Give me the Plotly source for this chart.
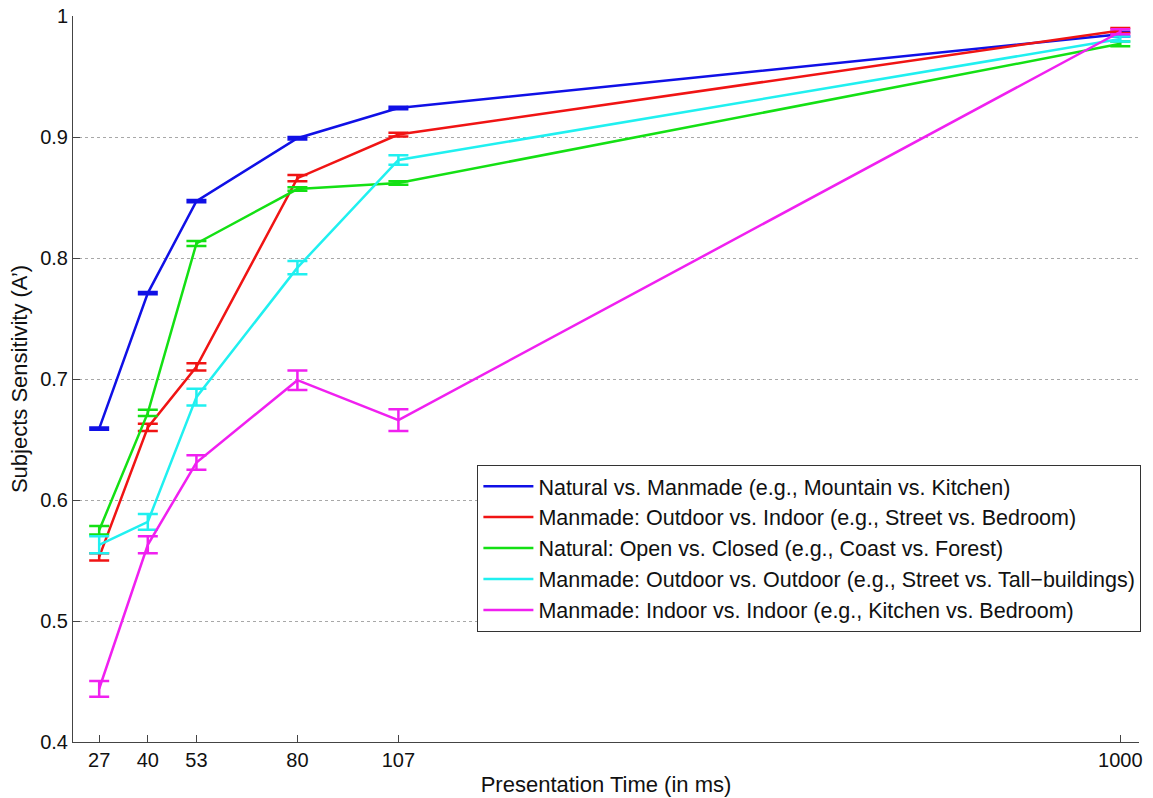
import plotly.graph_objects as go

# Presentation times (ms) and axis break: 1000 ms is drawn at the compressed position 300
times = [27, 40, 53, 80, 107, 1000]
tick_labels = ["27", "40", "53", "80", "107", "1000"]
BREAK_START = 107
BREAK_END_POS = 300


def axis_pos(t):
    if t <= BREAK_START:
        return t
    return BREAK_START + (t - BREAK_START) * (BREAK_END_POS - BREAK_START) / (1000 - BREAK_START)


series_names = [
    "Natural vs. Manmade (e.g., Mountain vs. Kitchen)",
    "Manmade: Outdoor vs. Indoor (e.g., Street vs. Bedroom)",
    "Natural: Open vs. Closed (e.g., Coast vs. Forest)",
    "Manmade: Outdoor vs. Outdoor (e.g., Street vs. Tall\u2212buildings)",
    "Manmade: Indoor vs. Indoor (e.g., Kitchen vs. Bedroom)",
]

natural_manmade = [0.659, 0.771, 0.847, 0.899, 0.924, 0.985]
natural_manmade_err = [0.001, 0.001, 0.001, 0.001, 0.001, 0.002]

outdoor_indoor = [0.553, 0.660, 0.710, 0.866, 0.902, 0.988]
outdoor_indoor_err = [0.003, 0.003, 0.003, 0.0025, 0.0015, 0.002]

open_closed = [0.575, 0.672, 0.812, 0.857, 0.862, 0.977]
open_closed_err = [0.0035, 0.0025, 0.002, 0.0015, 0.0015, 0.002]

outdoor_outdoor = [0.563, 0.582, 0.685, 0.792, 0.881, 0.981]
outdoor_outdoor_err = [0.007, 0.0065, 0.007, 0.0055, 0.004, 0.002]

indoor_indoor = [0.444, 0.563, 0.631, 0.699, 0.666, 0.987]
indoor_indoor_err = [0.0065, 0.007, 0.006, 0.008, 0.009, 0.002]

values = [natural_manmade, outdoor_indoor, open_closed, outdoor_outdoor, indoor_indoor]
errors = [natural_manmade_err, outdoor_indoor_err, open_closed_err, outdoor_outdoor_err, indoor_indoor_err]
colors = ["#1010e6", "#f01414", "#14e014", "#20f0f0", "#f020f0"]

FONT = "Liberation Sans, Arial, Helvetica, sans-serif"

x_positions = [axis_pos(t) for t in times]

fig = go.Figure()
for i, (name, ys, es, c) in enumerate(zip(series_names, values, errors, colors)):
    fig.add_trace(go.Scatter(
        x=x_positions, y=ys, name=name, mode="lines",
        line=dict(color=c, width=2.5),
        error_y=dict(type="data", array=es, visible=True, color=c, thickness=2.5, width=10),
        legendgroup=f"g{i}",
    ))

axis_color = "#444444"
fig.update_layout(
    width=1153, height=798,
    margin=dict(l=73, r=13, t=16, b=56),
    paper_bgcolor="white", plot_bgcolor="white",
    font=dict(family=FONT, color="#111111"),
    showlegend=True,
    legend=dict(
        x=0.379, y=0.382, xanchor="left", yanchor="top",
        font=dict(size=21.5, family=FONT, color="#111111"),
        bgcolor="white", bordercolor="#333333", borderwidth=1,
        traceorder="grouped", tracegroupgap=0, itemwidth=50,
    ),
    xaxis=dict(
        range=[20, 305], automargin=False,
        tickmode="array", tickvals=[axis_pos(t) for t in times], ticktext=tick_labels,
        ticks="inside", ticklen=7, tickcolor=axis_color,
        showline=True, linecolor=axis_color, linewidth=1, mirror=False,
        showgrid=False, zeroline=False,
        tickfont=dict(size=20, family=FONT),
        title=dict(text="Presentation Time (in ms)", font=dict(size=22, family=FONT), standoff=6),
    ),
    yaxis=dict(
        range=[0.4, 1.0], automargin=False,
        tickmode="array", tickvals=[0.4, 0.5, 0.6, 0.7, 0.8, 0.9, 1.0],
        ticktext=["0.4", "0.5", "0.6", "0.7", "0.8", "0.9", "1"],
        ticks="inside", ticklen=7, tickcolor=axis_color, ticklabelstandoff=0,
        showline=True, linecolor=axis_color, linewidth=1, mirror=False,
        showgrid=True, gridcolor="#a8a8a8", griddash="dot", gridwidth=1,
        zeroline=False,
        tickfont=dict(size=20, family=FONT),
        title=dict(text="Subjects Sensitivity (A\u2019)", font=dict(size=22, family=FONT), standoff=6),
    ),
)

fig.write_html("out.html")
